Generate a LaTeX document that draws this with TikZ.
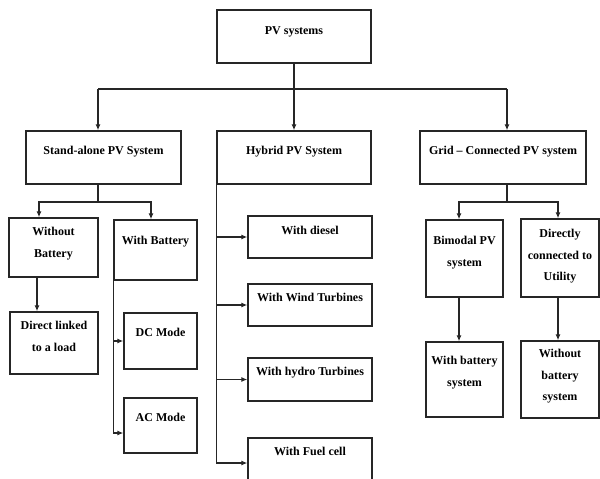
\documentclass[tikz,border=0pt]{standalone}
\usepackage{fontspec}
\setmainfont{Liberation Serif}
\usetikzlibrary{arrows.meta}

\tikzset{
box/.style={draw=black!85, line width=1.3pt, inner sep=0pt},
txt/.style={anchor=north, align=center, inner sep=0pt, font=\fontsize{12}{21.5}\selectfont\bfseries},
con/.style={draw=black!85, line width=1.3pt},
arr/.style={con, -{Latex[length=6pt,width=5pt]}}
}

\begin{document}
\begin{tikzpicture}[x=1pt,y=-1pt]
\useasboundingbox (0,0) rectangle (600,479);
\clip (0,0) rectangle (600,479);

% top and first level
\node[box, minimum width=154, minimum height=53, label={[txt,yshift=-17pt]north:PV systems}] (pv) at (294,36.5) {};
\node[box, minimum width=155, minimum height=53, label={[txt,yshift=-16pt]north:Stand-alone PV System}] (sa) at (103.5,157.5) {};
\node[box, minimum width=154, minimum height=53, label={[txt,yshift=-16pt]north:Hybrid PV System}] (hy) at (294,157.5) {};
\node[box, minimum width=166, minimum height=53, label={[txt,yshift=-16pt]north:{Grid -- Connected PV system}}] (gr) at (503,157.5) {};

% stand-alone branch
\node[box, minimum width=89, minimum height=59, label={[txt,yshift=-10pt]north:{Without\\Battery}}] (wob) at (53.5,247.5) {};
\node[box, minimum width=83, minimum height=60, label={[txt,yshift=-17pt]north:With Battery}] (wb) at (155.5,250) {};
\node[box, minimum width=88, minimum height=62, label={[txt,yshift=-10pt]north:{Direct linked\\to a load}}] (dl) at (54,343) {};
\node[box, minimum width=73, minimum height=56, label={[txt,yshift=-16pt]north:DC Mode}] (dc) at (160.5,341) {};
\node[box, minimum width=73, minimum height=55, label={[txt,yshift=-16pt]north:AC Mode}] (ac) at (160.5,425.5) {};

% hybrid branch
\node[box, minimum width=124, minimum height=42, label={[txt,yshift=-11pt]north:With diesel}] (dsl) at (310,237) {};
\node[box, minimum width=124, minimum height=42, label={[txt,yshift=-10pt]north:With Wind Turbines}] (wnd) at (310,305) {};
\node[box, minimum width=124, minimum height=43, label={[txt,yshift=-10pt]north:With hydro Turbines}] (hyd) at (310,379.5) {};
\node[box, minimum width=124, minimum height=50, label={[txt,yshift=-10pt]north:With Fuel cell}] (fc) at (310,463) {};

% grid branch
\node[box, minimum width=77, minimum height=77, label={[txt,yshift=-17pt]north:{Bimodal PV\\system}}] (bm) at (464.5,258.5) {};
\node[box, minimum width=78, minimum height=78, label={[txt,yshift=-11pt]north:{Directly\\connected to\\Utility}}] (dcu) at (560,258) {};
\node[box, minimum width=77, minimum height=75, label={[txt,yshift=-15pt]north:{With battery\\system}}] (wbs) at (464.5,379.5) {};
\node[box, minimum width=78, minimum height=77, label={[txt,yshift=-9pt]north:{Without\\battery\\system}}] (wobs) at (560,379.5) {};

% connectors
\coordinate (bl) at (98,89);
\coordinate (br) at (507,89);
\coordinate (jsa) at (98,202);
\coordinate (jgr) at (507,202);

\draw[arr] (pv) -- (hy);
\draw[con] (bl) -- (br);
\draw[arr] (bl) -- (bl |- sa.north);
\draw[arr] (br) -- (br |- gr.north);

\draw[con] (jsa |- sa.south) -- (jsa);
\draw[arr] (jsa) -| ([xshift=-14.5pt]wob.north);
\draw[arr] (jsa) -| ([xshift=-4.5pt]wb.north);
\draw[arr] ([xshift=-16.5pt]wob.south) -- ([xshift=-16.5pt]wob.south |- dl.north);
\draw[arr] (wb.south west) |- (dc.west);
\draw[arr] (wb.south west) |- ([yshift=-7.5pt]ac.west);

\draw[arr] (hy.south west) |- (dsl.west);
\draw[arr] (hy.south west) |- (wnd.west);
\draw[arr] (hy.south west) |- (hyd.west);
\draw[arr] (hy.south west) |- (fc.west);

\draw[con] (jgr |- gr.south) -- (jgr);
\draw[arr] (jgr) -| ([xshift=-5.5pt]bm.north);
\draw[arr] (jgr) -| ([xshift=-2pt]dcu.north);
\draw[arr] ([xshift=-5.5pt]bm.south) -- ([xshift=-5.5pt]wbs.north);
\draw[arr] ([xshift=-2pt]dcu.south) -- ([xshift=-2pt]wobs.north);
\end{tikzpicture}
\end{document}
